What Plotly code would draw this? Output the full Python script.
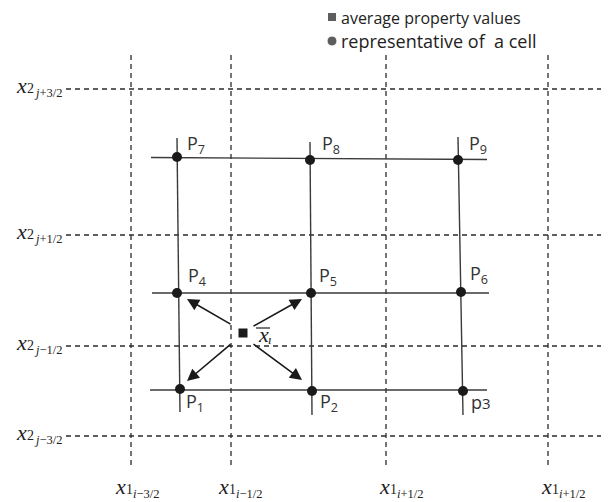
import plotly.graph_objects as go

# ---------------- data (diagram coordinates, y grows downward) ----------------
grid_x = [131, 231, 386, 548]          # vertical dashed cell faces
grid_y = [89, 235, 346, 436]           # horizontal dashed cell faces
grid_x_span = [55, 465]                # y-extent of vertical dashed lines
grid_y_span = [66, 609]                # x-extent of horizontal dashed lines

x1_subs = ["<i>i</i>\u22123/2", "<i>i</i>\u22121/2", "<i>i</i>+1/2", "<i>i</i>+1/2"]
x1_label_left = [113, 216, 377, 539]
x2_subs = ["<i>j</i>+3/2", "<i>j</i>+1/2", "<i>j</i>\u22121/2", "<i>j</i>\u22123/2"]

pt_x = [180, 312, 463, 177, 311, 461, 177, 310, 458]
pt_y = [389, 391, 391, 293, 293, 292, 157, 160, 160]
pt_names = ["P", "P", "p", "P", "P", "P", "P", "P", "P"]
pt_nums = ["1", "2", "3", "4", "5", "6", "7", "8", "9"]
pt_label_x = [184, 318, 469, 186, 317, 468, 185, 320, 467]
pt_label_y = [402, 402, 402, 276, 276, 274, 144, 144, 144]

row_x0 = [150, 152, 151]
row_x1 = [487, 489, 487]
row_y0 = [390, 293, 157.5]
row_y1 = [390, 293, 159.5]

col_x0 = [177, 310, 458]
col_x1 = [180, 312, 463]
col_y0 = [138, 142, 137]
col_y1 = [412, 415, 415]

avg_x, avg_y = 243, 333
arrow_tail_x = [232, 252, 232, 252]
arrow_tail_y = [325, 327, 343, 343]
arrow_head_x = [187, 302, 187, 302]
arrow_head_y = [299, 299, 381, 380]

legend_items = ["average property values", "representative of\u00a0\u00a0a cell"]
legend_sizes = [16, 18]
legend_symbols = ["square", "circle"]
legend_x = 332
legend_y = [18, 41]

# page body has an 8px default margin: shift the view so diagram units == screen pixels
PAGE_OFF = 8
W, H = 609, 502

# ---------------- figure ----------------
fig = go.Figure()
DASH = "5px,4px"
LINE_C = "#2b2b2b"
INK = "#1a1a1a"

vx, vy = [], []
for gx in grid_x:
    vx += [gx, gx, None]
    vy += [grid_x_span[0], grid_x_span[1], None]
fig.add_trace(go.Scatter(x=vx, y=vy, mode="lines",
                         line=dict(color=LINE_C, width=1.3, dash=DASH), hoverinfo="skip"))
hx, hy = [], []
for gy in grid_y:
    hx += [grid_y_span[0], grid_y_span[1], None]
    hy += [gy, gy, None]
fig.add_trace(go.Scatter(x=hx, y=hy, mode="lines",
                         line=dict(color=LINE_C, width=1.3, dash=DASH), hoverinfo="skip"))

sx, sy = [], []
for a, b, c, d in zip(row_x0, row_x1, row_y0, row_y1):
    sx += [a, b, None]
    sy += [c, d, None]
for a, b, c, d in zip(col_x0, col_x1, col_y0, col_y1):
    sx += [a, b, None]
    sy += [c, d, None]
fig.add_trace(go.Scatter(x=sx, y=sy, mode="lines",
                         line=dict(color="#3a3a3a", width=1.4), hoverinfo="skip"))

fig.add_trace(go.Scatter(x=pt_x, y=pt_y, mode="markers",
                         marker=dict(symbol="circle", size=10, color=INK), hoverinfo="skip"))

fig.add_trace(go.Scatter(x=[avg_x], y=[avg_y], mode="markers",
                         marker=dict(symbol="square", size=9, color=INK), hoverinfo="skip"))

fig.add_trace(go.Scatter(x=[legend_x] * 2, y=[legend_y[0] - 1, legend_y[1]], mode="markers",
                         marker=dict(symbol=legend_symbols, size=[9, 10], color=INK),
                         hoverinfo="skip"))

ann = []
SANS = "Open Sans, Noto Sans, sans-serif"
SERIF = "Liberation Serif, DejaVu Serif, serif"
TXT = "#222222"

for txt, ly, fs in zip(legend_items, legend_y, legend_sizes):
    ann.append(dict(x=legend_x + 7, y=ly, text=txt, xanchor="left", yanchor="middle",
                    showarrow=False, font=dict(family=SANS, size=fs, color=TXT)))

for nm, num, lx, ly in zip(pt_names, pt_nums, pt_label_x, pt_label_y):
    if nm == "p":
        t = "p<span style='font-size:15px'>" + num + "</span>"
    else:
        t = nm + "<sub>" + num + "</sub>"
    ann.append(dict(x=lx, y=ly, text=t, xanchor="left", yanchor="middle", showarrow=False,
                    font=dict(family=SANS, size=18, color="#333333")))

for tx, ty, hx_, hy_ in zip(arrow_tail_x, arrow_tail_y, arrow_head_x, arrow_head_y):
    ann.append(dict(x=hx_, y=hy_, ax=tx, ay=ty, xref="x", yref="y", axref="x", ayref="y",
                    text="", showarrow=True, arrowhead=2, arrowsize=1.5, arrowwidth=1.6,
                    arrowcolor=INK, standoff=0, startstandoff=0))

ann.append(dict(x=avg_x + 13, y=avg_y + 1, text="<i>x</i>", xanchor="left", yanchor="middle",
                showarrow=False, font=dict(family=SERIF, size=22, color=TXT)))
ann.append(dict(x=avg_x + 23, y=avg_y + 6, text="<i>\u0131</i>", xanchor="left", yanchor="middle",
                showarrow=False, font=dict(family=SERIF, size=13, color=TXT)))


def math_label(x_left, y_mid, sub1, sub2):
    ann.append(dict(x=x_left, y=y_mid - 4, text="<i>x</i>", xanchor="left", yanchor="middle",
                    showarrow=False, font=dict(family=SERIF, size=22, color=TXT)))
    ann.append(dict(x=x_left + 11, y=y_mid - 1, text=sub1, xanchor="left", yanchor="middle",
                    showarrow=False, font=dict(family=SERIF, size=14, color=TXT)))
    ann.append(dict(x=x_left + 18, y=y_mid + 4, text=sub2, xanchor="left", yanchor="middle",
                    showarrow=False, font=dict(family=SERIF, size=12.5, color=TXT)))


for gy, s in zip(grid_y, x2_subs):
    math_label(14, gy, "2", s)
for lx, s in zip(x1_label_left, x1_subs):
    math_label(lx, 490, "1", s)

shapes = [dict(type="line", xref="x", yref="y", x0=avg_x + 13, x1=avg_x + 27,
               y0=avg_y - 5, y1=avg_y - 5, line=dict(color=TXT, width=1.2))]

fig.update_layout(
    width=W - PAGE_OFF, height=H - PAGE_OFF,
    margin=dict(l=0, r=0, t=0, b=0),
    paper_bgcolor="white", plot_bgcolor="white",
    showlegend=False,
    xaxis=dict(range=[PAGE_OFF, W], visible=False, fixedrange=True),
    yaxis=dict(range=[H, PAGE_OFF], visible=False, fixedrange=True),
    annotations=ann, shapes=shapes,
)

fig.write_html("out.html")
